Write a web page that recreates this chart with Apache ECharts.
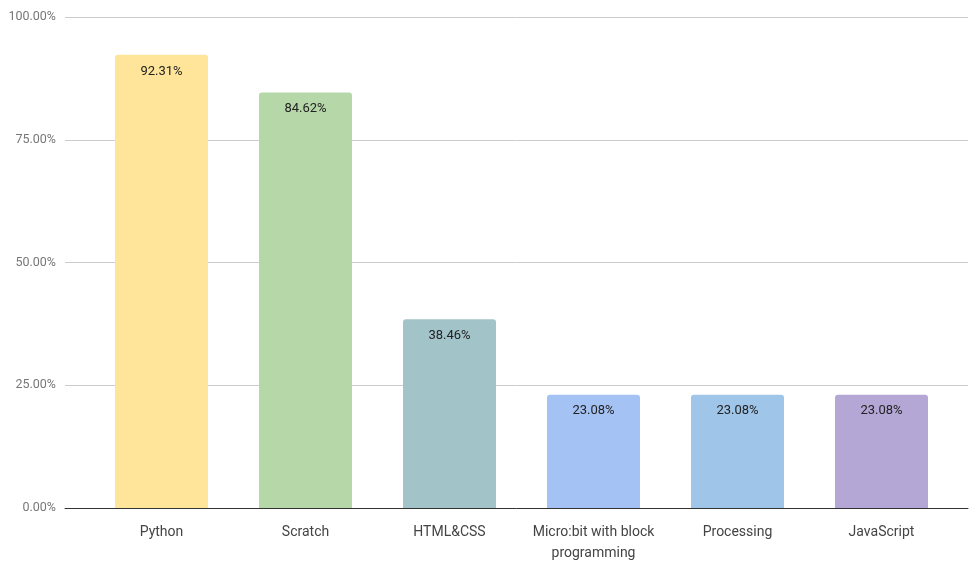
<!DOCTYPE html>
<html>
<head>
<meta charset="utf-8">
<script src="https://cdn.jsdelivr.net/npm/echarts@6/dist/echarts.min.js"></script>
<style>
  html, body { margin: 0; padding: 0; background: #fff; }
  #chart { width: 970px; height: 561px; }
</style>
</head>
<body>
<div id="chart"></div>
<script>
// languages and share of answers (%)
var languages = ['Python', 'Scratch', 'HTML&CSS', 'Micro:bit with block\nprogramming', 'Processing', 'JavaScript'];
var shares = [92.31, 84.62, 38.46, 23.08, 23.08, 23.08];
var barColors = ['#FFE599', '#B6D7A8', '#A2C4C9', '#A4C2F4', '#9FC5E8', '#B4A7D6'];
var yTicks = [0, 25, 50, 75, 100];

var font = 'Roboto, "Liberation Sans", sans-serif';

var chart = echarts.init(document.getElementById('chart'));

var barData = [];
for (var i = 0; i < shares.length; i++) {
  barData.push({ value: shares[i], itemStyle: { color: barColors[i] } });
}

var option = {
  animation: false,
  grid: [
    // full width grid: gridlines + y labels + base line
    { left: 65, right: 2, top: 17, bottom: 53, outerBoundsMode: 'none' },
    // bars grid
    { left: 89.5, right: 16.5, top: 17, bottom: 53, outerBoundsMode: 'none' }
  ],
  xAxis: [
    {
      gridIndex: 0,
      type: 'category',
      data: languages,
      axisLine: { lineStyle: { color: '#333', width: 1 } },
      axisTick: { show: false },
      axisLabel: { show: false }
    },
    {
      gridIndex: 1,
      type: 'category',
      data: languages,
      axisLine: { show: false },
      axisTick: { show: false },
      axisLabel: {
        color: '#444',
        fontFamily: font,
        fontSize: 14,
        margin: 14,
        lineHeight: 21,
        interval: 0
      }
    }
  ],
  yAxis: [
    {
      gridIndex: 0,
      type: 'value',
      min: yTicks[0],
      max: yTicks[yTicks.length - 1],
      interval: 25,
      axisLine: { show: false },
      axisTick: { show: false },
      splitLine: { lineStyle: { color: '#cccccc' } },
      axisLabel: {
        color: '#777',
        fontFamily: font,
        fontSize: 12.5,
        margin: 9,
        formatter: function (v) { return v.toFixed(2) + '%'; }
      }
    },
    {
      gridIndex: 1,
      type: 'value',
      min: 0,
      max: 100,
      show: false
    }
  ],
  series: [
    {
      type: 'bar',
      xAxisIndex: 1,
      yAxisIndex: 1,
      barWidth: 93,
      data: barData,
      itemStyle: { borderRadius: [3, 3, 0, 0] },
      label: {
        show: true,
        position: 'insideTop',
        distance: 10,
        color: '#222',
        fontFamily: font,
        fontSize: 13,
        formatter: function (p) { return p.value.toFixed(2) + '%'; }
      }
    }
  ]
};

chart.setOption(option);
</script>
</body>
</html>
